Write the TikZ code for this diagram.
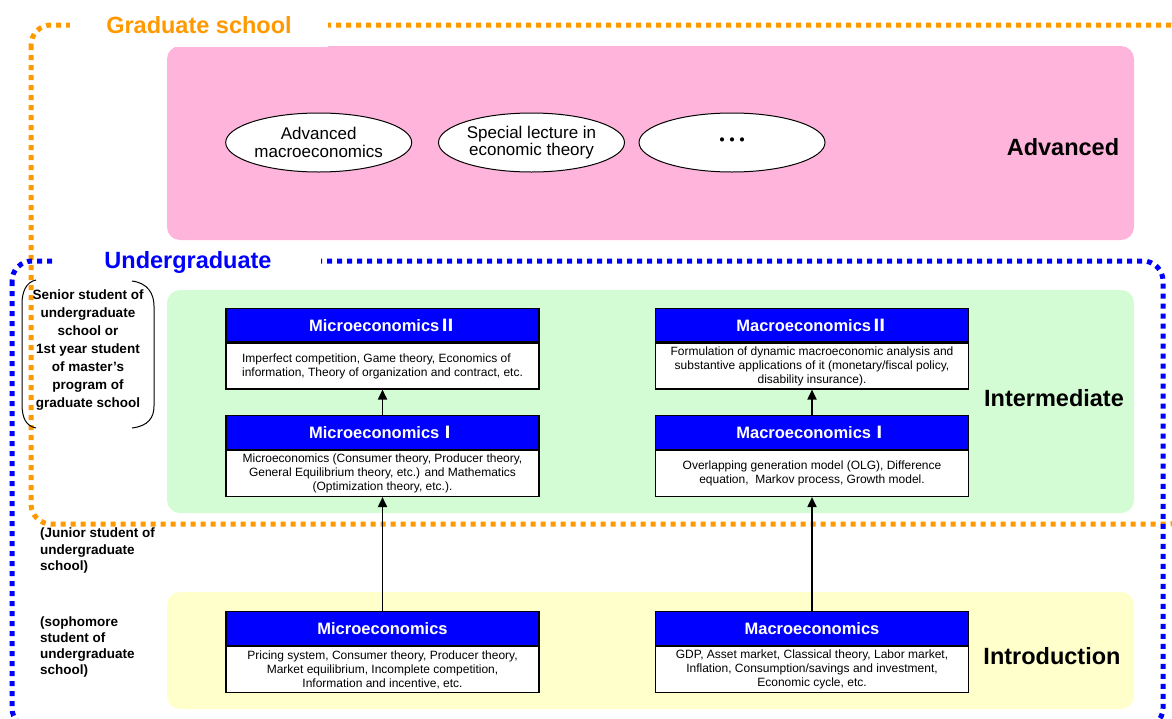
\documentclass[tikz,border=0pt]{standalone}
\usepackage{fontspec}
\setmainfont{Liberation Sans}
\newfontfamily\cjkf{Noto Sans CJK JP}
\usetikzlibrary{shapes.geometric,arrows.meta}
\definecolor{orangeF}{RGB}{255,153,0}
\definecolor{blueF}{RGB}{0,0,255}
\definecolor{pinkR}{RGB}{255,180,220}
\definecolor{greenR}{RGB}{212,252,212}
\definecolor{yellowR}{RGB}{255,255,204}
\definecolor{hdrblue}{RGB}{0,0,255}
\begin{document}
\begin{tikzpicture}[x=1pt,y=-1pt,
  region/.style={rounded corners=13pt, fill=#1, draw=none},
  frame/.style={draw=#1, line width=5pt, dash pattern=on 5pt off 5pt, rounded corners=20pt},
  hdr/.style={draw=black, line width=1.2pt, fill=hdrblue, text=white, minimum width=313pt, minimum height=33.5pt, inner sep=0pt, font=\fontsize{16.5}{18}\selectfont\bfseries},
  body/.style={draw=black, line width=1.2pt, fill=white, minimum width=313pt, minimum height=46pt, inner sep=0pt, align=center, font=\fontsize{12}{14}\selectfont},
  course/.style={shape=ellipse, draw=black, line width=1pt, fill=white, minimum width=186pt, minimum height=59pt, inner sep=0pt, align=center, font=\fontsize{17}{17.5}\selectfont},
  level/.style={font=\fontsize{23.5}{26}\selectfont\bfseries},
  grouplabel/.style={fill=white, inner sep=0pt, font=\fontsize{23.5}{26}\selectfont\bfseries},
  yearnote/.style={font=\fontsize{13.5}{16.3}\selectfont\bfseries, align=left, inner sep=0pt, anchor=west},
  up/.style={line width=1.8pt, -{Triangle[length=10pt,width=9pt]}},
  bracketline/.style={draw=black, line width=1pt}
]
\useasboundingbox (0,0) rectangle (1172,718);
\fill[white] (0,0) rectangle (1172,718);

% level regions
\fill[region=pinkR] (167,46) rectangle (1134,240);
\fill[region=greenR] (167,290) rectangle (1134,513);
\fill[region=yellowR] (167,592) rectangle (1134,709);

% group frames
\draw[frame=orangeF] (31,25) rectangle (1190,524);
\draw[frame=blueF] (12,261) rectangle (1163,728);

% group labels
\node[grouplabel, text=orangeF, minimum width=258pt, minimum height=44pt] (grad) at (199,25) {Graduate school};
\node[grouplabel, text=blueF, minimum width=265pt, minimum height=42pt] (ugrad) at (188,262) {Undergraduate};

% advanced courses
\node[course] (e1) at (318.7,142.5) {Advanced\\macroeconomics};
\node[course] (e2) at (531.5,142.5) {Special lecture in\\economic theory};
\node[course] (e3) at (732,142.5) {\cjkf\bfseries\fontsize{20}{22}\selectfont ･･･};

% microeconomics column
\node[hdr] (mic2h) at (382.5,325) {Microeconomics{\cjkf Ⅱ}};
\node[body, anchor=north, align=left] (mic2b) at (mic2h.south) {Imperfect competition, Game theory, Economics of\\information, Theory of organization and contract, etc.};
\node[hdr] (mic1h) at (382.5,432.5) {Microeconomics{\cjkf Ⅰ}};
\node[body, anchor=north] (mic1b) at (mic1h.south) {Microeconomics (Consumer theory, Producer theory,\\General Equilibrium theory, etc.) and Mathematics\\(Optimization theory, etc.).};
\node[hdr] (mic0h) at (382.5,628.5) {Microeconomics};
\node[body, anchor=north] (mic0b) at (mic0h.south) {Pricing system, Consumer theory, Producer theory,\\Market equilibrium, Incomplete competition,\\Information and incentive, etc.};

% macroeconomics column
\node[hdr] (mac2h) at (812,325) {Macroeconomics{\cjkf Ⅱ}};
\node[body, anchor=north] (mac2b) at (mac2h.south) {Formulation of dynamic macroeconomic analysis and\\substantive applications of it (monetary/fiscal policy,\\disability insurance).};
\node[hdr] (mac1h) at (812,432.5) {Macroeconomics{\cjkf Ⅰ}};
\node[body, anchor=north] (mac1b) at (mac1h.south) {Overlapping generation model (OLG), Difference\\equation,\ \ Markov process, Growth model.};
\node[hdr] (mac0h) at (812,628.5) {Macroeconomics};
\node[body, anchor=north] (mac0b) at (mac0h.south) {GDP, Asset market, Classical theory, Labor market,\\Inflation, Consumption/savings and investment,\\Economic cycle, etc.};

% prerequisites
\draw[up] (mic0h.north) -- (mic1b.south);
\draw[up] (mic1h.north) -- (mic2b.south);
\draw[up] (mac0h.north) -- (mac1b.south);
\draw[up] (mac1h.north) -- (mac2b.south);

% level names
\node[level] (lvadv) at (1063,147) {Advanced};
\node[level] (lvint) at (1054,398) {Intermediate};
\node[level] (lvintro) at (1052,656) {Introduction};

% year notes
\node[font=\fontsize{13.5}{18}\selectfont\bfseries, align=center, inner sep=0pt] (senior) at (88,350.5) {Senior student of\\undergraduate\\school or\\1st year student\\of master’s\\program of\\graduate school};
\draw[bracketline] (36,280) .. controls (26,282) and (22,292) .. (22,304) -- (22,404) .. controls (22,418) and (26,426) .. (36,428);
\draw[bracketline] (132,281) .. controls (148,283) and (154,294) .. (154,306) -- (154,406) .. controls (154,418) and (148,426) .. (132,428);
\node[yearnote] (junior) at (40,550.5) {(Junior student of\\undergraduate\\school)};
\node[yearnote] (sopho) at (40,647) {(sophomore\\student of\\undergraduate\\school)};
\end{tikzpicture}
\end{document}
